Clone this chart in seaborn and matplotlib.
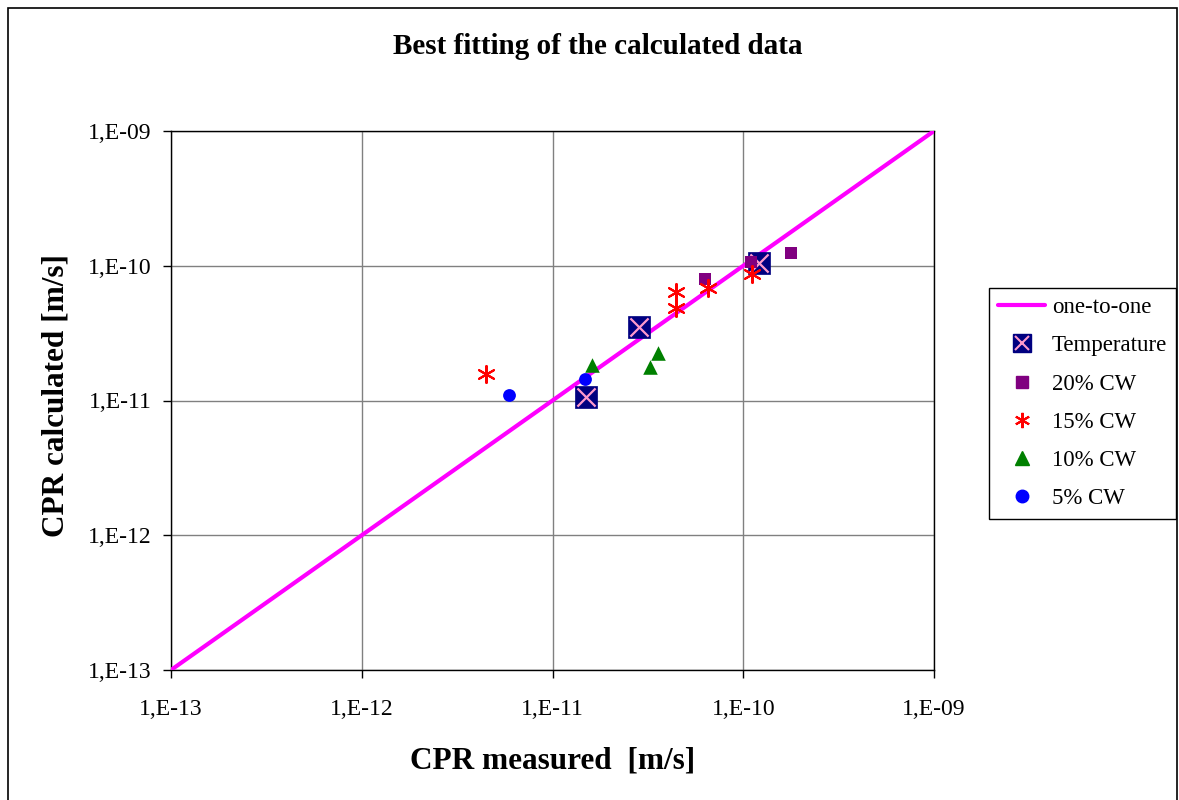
import matplotlib
matplotlib.use("Agg")
import matplotlib.pyplot as plt
import seaborn as sns
import numpy as np
from matplotlib.lines import Line2D
from matplotlib.patches import Rectangle
from matplotlib.ticker import FixedLocator, NullLocator
from matplotlib.legend_handler import HandlerTuple

# ---- data ----
line_x = [1e-13, 1e-9]
line_y = [1e-13, 1e-9]

temp_meas = [1.50e-11, 2.83e-11, 1.21e-10]
temp_calc = [1.07e-11, 3.49e-11, 1.04e-10]

cw20_meas = [6.3e-11, 1.10e-10, 1.77e-10]
cw20_calc = [7.97e-11, 1.07e-10, 1.25e-10]

cw15_meas = [4.47e-12, 4.43e-11, 4.43e-11, 6.52e-11, 1.11e-10]
cw15_calc = [1.57e-11, 6.38e-11, 4.83e-11, 6.80e-11, 8.64e-11]

cw10_meas = [1.61e-11, 3.57e-11, 3.24e-11]
cw10_calc = [1.83e-11, 2.26e-11, 1.78e-11]

cw5_meas = [5.92e-12, 1.48e-11]
cw5_calc = [1.10e-11, 1.44e-11]

tick_vals = [1e-13, 1e-12, 1e-11, 1e-10, 1e-9]
tick_labels = ["1,E-13", "1,E-12", "1,E-11", "1,E-10", "1,E-09"]

sns.set_style("white")
plt.rcParams['font.family'] = ['Liberation Serif', 'DejaVu Serif']
plt.rcParams.update({"text.color": "black", "axes.labelcolor": "black",
                     "xtick.color": "black", "ytick.color": "black"})

fig = plt.figure(figsize=(11.79, 8.0), dpi=100)
ax = fig.add_axes([171/1179, 1-670/800, (934-171)/1179, (670-131)/800])
ax.set_xscale("log")
ax.set_yscale("log")

# one-to-one line
sns.lineplot(x=line_x, y=line_y, ax=ax, color="#FF00FF", linewidth=3, zorder=3)

# Temperature: navy square with pink x
sns.scatterplot(x=temp_meas, y=temp_calc, ax=ax, marker="s", s=270, color="#000080",
                edgecolor="#000080", linewidth=0.5, zorder=4)
sns.scatterplot(x=temp_meas, y=temp_calc, ax=ax, marker="x", s=170, color="#FF99CC",
                linewidth=1.6, zorder=5)
sns.scatterplot(x=cw20_meas, y=cw20_calc, ax=ax, marker="s", s=80, color="#800080",
                edgecolor="#800080", linewidth=0, zorder=6)
sns.scatterplot(x=cw15_meas, y=cw15_calc, ax=ax, marker=(6, 2, 0), s=150, color="red",
                edgecolor="red", linewidth=1.5, zorder=6)
sns.scatterplot(x=cw10_meas, y=cw10_calc, ax=ax, marker="^", s=110, color="#008000",
                edgecolor="#008000", linewidth=0, zorder=6)
sns.scatterplot(x=cw5_meas, y=cw5_calc, ax=ax, marker="o", s=85, color="blue",
                edgecolor="blue", linewidth=0, zorder=6)

ax.set_xlim(1e-13, 1e-9)
ax.set_ylim(1e-13, 1e-9)
for axis in (ax.xaxis, ax.yaxis):
    axis.set_major_locator(FixedLocator(tick_vals))
    axis.set_minor_locator(NullLocator())
ax.set_xticklabels(tick_labels)
ax.set_yticklabels(tick_labels)
ax.tick_params(axis="x", which="major", direction="out", length=6, width=1,
               labelsize=17, pad=15, bottom=True)
ax.tick_params(axis="y", which="major", direction="out", length=6, width=1,
               labelsize=17, pad=8, left=True)
ax.grid(True, which="major", color="#808080", linewidth=1)
ax.set_axisbelow(True)
for sp in ax.spines.values():
    sp.set_color("black")
    sp.set_linewidth(1)
    sp.set_visible(True)

ax.set_xlabel("CPR measured  [m/s]", fontsize=22.5, fontweight="bold")
ax.set_ylabel("CPR calculated [m/s]", fontsize=22.5, fontweight="bold")
ax.yaxis.set_label_coords(-(171-71)/763, 0.51)
ax.xaxis.set_label_coords(0.5, -(761-670)/539)
ax.xaxis.label.set_va("center")
fig.text(598/1179, 1-47/800, "Best fitting of the calculated data", ha="center", va="center",
         fontsize=21, fontweight="bold")

# legend
handles = [
    Line2D([], [], color="#FF00FF", linewidth=3),
    (Line2D([], [], marker="s", markersize=13, color="#000080", linestyle="none"),
     Line2D([], [], marker="x", markersize=10, color="#FF99CC", markeredgewidth=1.5, linestyle="none")),
    Line2D([], [], marker="s", markersize=8, color="#800080", linestyle="none"),
    Line2D([], [], marker=(6, 2, 0), markersize=11, color="red", markeredgewidth=1.5, linestyle="none"),
    Line2D([], [], marker="^", markersize=10, color="#008000", linestyle="none"),
    Line2D([], [], marker="o", markersize=9, color="blue", linestyle="none"),
]
labels = ["one-to-one", "Temperature", "20% CW", "15% CW", "10% CW", "5% CW"]
leg = fig.legend(handles, labels, loc="upper left",
                 bbox_to_anchor=(989/1179, 1-288/800), fontsize=16.5,
                 frameon=True, fancybox=False, edgecolor="black", framealpha=1,
                 handlelength=2.05, labelspacing=0.75, borderpad=0.4, borderaxespad=0,
                 handletextpad=0.3,
                 handler_map={tuple: HandlerTuple(ndivide=1)})
leg.get_frame().set_linewidth(1)

# outer border
fig.patches.append(Rectangle((8/1179, -0.01), (1177-8)/1179, 1-8/800+0.01,
                             transform=fig.transFigure, fill=False, edgecolor="black",
                             linewidth=1.2))

fig.savefig("out.png", dpi=100)
